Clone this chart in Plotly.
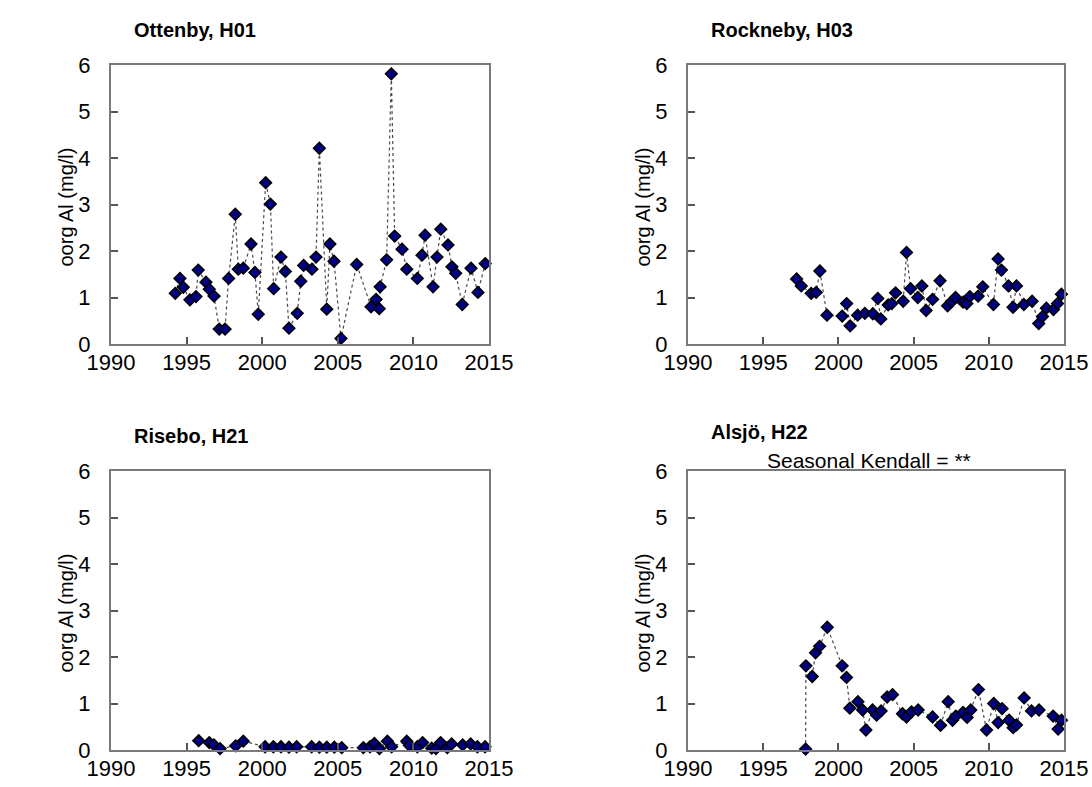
import plotly.graph_objects as go

# Organic aluminium (mg/l) at four monitoring stations
ottenby_year = [1994.25, 1994.56, 1994.78, 1995.22, 1995.62, 1995.77, 1996.28, 1996.50, 1996.81,
                1997.16, 1997.54, 1997.78, 1998.22, 1998.42, 1998.75, 1999.26, 1999.52, 1999.74,
                2000.23, 2000.54, 2000.76, 2001.24, 2001.53, 2001.77, 2002.32, 2002.55, 2002.74,
                2003.29, 2003.56, 2003.78, 2004.27, 2004.48, 2004.75, 2005.21, 2006.25, 2007.20,
                2007.53, 2007.74, 2007.80, 2008.23, 2008.54, 2008.76, 2009.25, 2009.56, 2010.26,
                2010.57, 2010.77, 2011.30, 2011.56, 2011.81, 2012.29, 2012.55, 2012.80, 2013.23,
                2013.81, 2014.27, 2014.75]
ottenby_al = [1.09, 1.41, 1.22, 0.95, 1.02, 1.59, 1.33, 1.18, 1.03,
              0.32, 0.32, 1.41, 2.79, 1.61, 1.63, 2.15, 1.54, 0.64,
              3.47, 3.01, 1.19, 1.87, 1.56, 0.34, 0.66, 1.35, 1.69,
              1.61, 1.87, 4.21, 0.75, 2.15, 1.78, 0.12, 1.71, 0.80,
              0.96, 0.76, 1.23, 1.81, 5.81, 2.32, 2.04, 1.61, 1.41,
              1.91, 2.34, 1.23, 1.87, 2.47, 2.13, 1.66, 1.52, 0.85,
              1.63, 1.11, 1.73]

rockneby_year = [1997.22, 1997.53, 1998.19, 1998.52, 1998.77, 1999.24, 2000.25, 2000.55, 2000.78,
                 2001.28, 2001.76, 2002.29, 2002.62, 2002.82, 2003.31, 2003.55, 2003.80, 2004.31,
                 2004.53, 2004.80, 2005.28, 2005.55, 2005.83, 2006.26, 2006.76, 2007.26, 2007.52,
                 2007.79, 2008.29, 2008.54, 2008.74, 2009.29, 2009.60, 2010.31, 2010.62, 2010.84,
                 2011.31, 2011.61, 2011.84, 2012.33, 2012.88, 2013.32, 2013.57, 2013.83, 2014.30,
                 2014.57, 2014.83]
rockneby_al = [1.40, 1.25, 1.09, 1.11, 1.57, 0.62, 0.60, 0.87, 0.39,
               0.62, 0.66, 0.65, 0.98, 0.54, 0.84, 0.87, 1.10, 0.92,
               1.97, 1.19, 1.00, 1.25, 0.72, 0.96, 1.36, 0.82, 0.91,
               1.00, 0.90, 0.87, 1.02, 1.03, 1.23, 0.85, 1.83, 1.59,
               1.25, 0.79, 1.25, 0.85, 0.92, 0.44, 0.59, 0.77, 0.74,
               0.87, 1.07]

risebo_year = [1995.80, 1996.50, 1996.81, 1997.21, 1998.25, 1998.75, 2000.19, 2000.74, 2001.24,
               2001.77, 2002.28, 2003.27, 2003.78, 2004.27, 2004.77, 2005.26, 2006.69, 2007.13,
               2007.42, 2007.75, 2008.28, 2008.56, 2009.56, 2009.73, 2010.26, 2010.61, 2011.21,
               2011.49, 2011.80, 2012.24, 2012.53, 2013.26, 2013.79, 2014.23, 2014.74]
risebo_al = [0.20, 0.16, 0.11, 0.03, 0.09, 0.19, 0.07, 0.07, 0.07,
             0.06, 0.07, 0.07, 0.06, 0.06, 0.06, 0.05, 0.05, 0.07,
             0.14, 0.03, 0.19, 0.07, 0.19, 0.10, 0.07, 0.16, 0.04,
             0.03, 0.16, 0.05, 0.13, 0.11, 0.13, 0.07, 0.07]

alsjo_year = [1997.82, 1997.84, 1998.26, 1998.48, 1998.75, 1999.26, 2000.25, 2000.54, 2000.76,
              2001.30, 2001.61, 2001.83, 2002.27, 2002.54, 2002.84, 2003.24, 2003.60, 2004.26,
              2004.53, 2004.86, 2005.30, 2006.26, 2006.79, 2007.30, 2007.59, 2007.81, 2008.29,
              2008.56, 2008.80, 2009.31, 2009.85, 2010.33, 2010.62, 2010.88, 2011.35, 2011.62,
              2011.84, 2012.35, 2012.84, 2013.34, 2014.28, 2014.61, 2014.83]
alsjo_al = [0.02, 1.81, 1.58, 2.09, 2.23, 2.64, 1.81, 1.56, 0.90,
            1.04, 0.86, 0.43, 0.86, 0.75, 0.84, 1.14, 1.19, 0.78,
            0.71, 0.82, 0.86, 0.71, 0.53, 1.04, 0.64, 0.73, 0.81,
            0.70, 0.86, 1.30, 0.43, 1.00, 0.59, 0.89, 0.64, 0.48,
            0.54, 1.12, 0.84, 0.86, 0.73, 0.45, 0.64]

stations = [
    ("Ottenby, H01", ottenby_year, ottenby_al),
    ("Rockneby, H03", rockneby_year, rockneby_al),
    ("Risebo, H21", risebo_year, risebo_al),
    ("Alsjö, H22", alsjo_year, alsjo_al),
]

x_ticks = [1990, 1995, 2000, 2005, 2010, 2015]
y_ticks = [0, 1, 2, 3, 4, 5, 6]
y_title = "oorg Al (mg/l)"

W, H = 1092, 787
FONT = "Liberation Sans, Arial, sans-serif"

# panel boxes in pixels: (left, right, top, bottom)
boxes = [(111, 489, 65, 344), (688, 1064, 65, 344),
         (111, 489, 471, 750), (688, 1064, 471, 750)]
title_y = [30, 30, 436, 432]

fig = go.Figure()
layout = dict(
    width=W, height=H,
    margin=dict(l=0, r=0, t=0, b=0, pad=0, autoexpand=False),
    paper_bgcolor="white", plot_bgcolor="white",
    showlegend=False,
    font=dict(family=FONT, color="black"),
)

annotations = []
for i, ((name, xs, ys), (l, r, t, b)) in enumerate(zip(stations, boxes)):
    k = "" if i == 0 else str(i + 1)
    fig.add_trace(go.Scatter(
        x=xs, y=ys, mode="lines+markers",
        xaxis="x" + k, yaxis="y" + k,
        line=dict(color="#4a4a4a", width=1.2, dash="dot"),
        marker=dict(symbol="diamond", size=9, color="#000080",
                    line=dict(color="black", width=1.5)),
        cliponaxis=False,
    ))
    axis_common = dict(
        showgrid=False, zeroline=False, showline=True, mirror=True,
        linecolor="#7a7a7a", linewidth=2, automargin=False,
        ticks="inside", ticklen=7, tickwidth=1.5, tickcolor="#555555",
        tickfont=dict(family=FONT, size=22, color="black"),
    )
    layout["xaxis" + k] = dict(
        axis_common, domain=[l / W, r / W], anchor="y" + k,
        range=[1990, 2015], tickvals=x_ticks, ticklabelstandoff=-2,
    )
    layout["yaxis" + k] = dict(
        axis_common, domain=[1 - b / H, 1 - t / H], anchor="x" + k,
        range=[0, 6], tickvals=y_ticks, ticklabelstandoff=14,
    )
    # panel title
    annotations.append(dict(
        text="<b>%s</b>" % name, xref="paper", yref="paper",
        x=(l + 21) / W, y=1 - title_y[i] / H, xanchor="left", yanchor="middle",
        showarrow=False, font=dict(family=FONT, size=20, color="black"),
    ))
    # y-axis title
    annotations.append(dict(
        text=y_title, xref="paper", yref="paper",
        x=(l - 46) / W, y=1 - ((t + b) / 2 + 3) / H, xanchor="center", yanchor="middle",
        textangle=-90, showarrow=False, font=dict(family=FONT, size=20, color="black"),
    ))

annotations.append(dict(
    text="Seasonal Kendall = **", xref="paper", yref="paper",
    x=869 / W, y=1 - 461 / H, xanchor="center", yanchor="middle",
    showarrow=False, font=dict(family=FONT, size=21, color="black"),
))

layout["annotations"] = annotations
fig.update_layout(**layout)
fig.write_html("out.html")
